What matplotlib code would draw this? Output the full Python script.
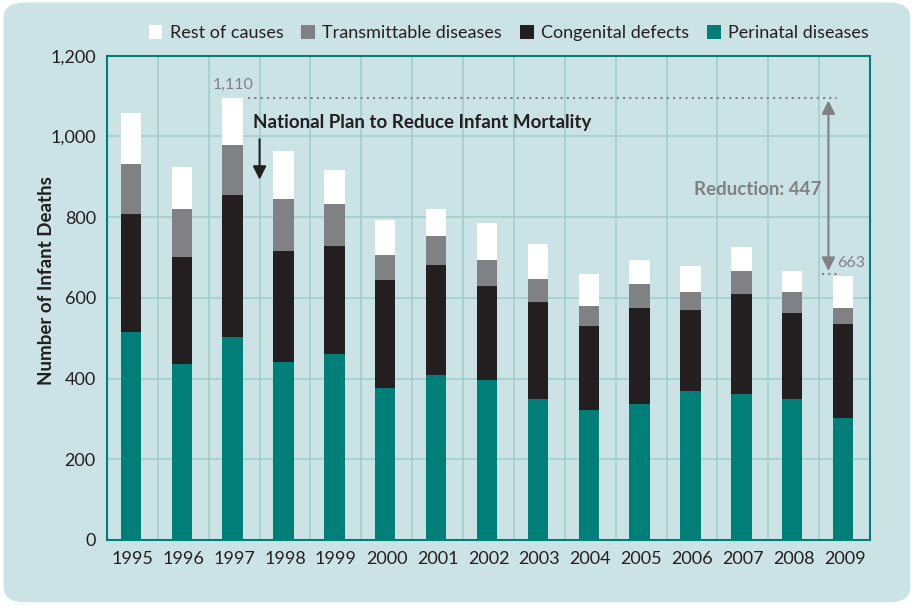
import matplotlib.pyplot as plt
from matplotlib.patches import Patch, FancyBboxPatch
from matplotlib.ticker import FuncFormatter

plt.rcParams['font.family'] = ['Lato', 'DejaVu Sans']

# Data
years = ['1995', '1996', '1997', '1998', '1999', '2000', '2001', '2002',
         '2003', '2004', '2005', '2006', '2007', '2008', '2009']
perinatal = [515, 436, 502, 442, 462, 377, 409, 397, 349, 323, 336, 369, 362, 349, 303]
congenital = [292, 264, 352, 273, 267, 266, 273, 232, 240, 206, 240, 200, 247, 214, 233]
transmittable = [124, 121, 124, 130, 103, 63, 71, 64, 58, 52, 58, 45, 58, 51, 38]
rest = [126, 104, 118, 119, 86, 86, 66, 93, 86, 79, 59, 66, 59, 53, 79]

max_label = '1,110'
min_label = '663'
reduction_label = 'Reduction: 447'

bg = '#cce3e5'
grid_col = '#9fcfcf'
teal = '#007f78'
black = '#231f20'
gray = '#808184'

fig = plt.figure(figsize=(9.14, 6.06), dpi=100, facecolor='white')
panel = FancyBboxPatch((0.004, 0.006), 0.992, 0.99, boxstyle='round,pad=0,rounding_size=0.025',
                       transform=fig.transFigure, facecolor=bg, edgecolor='none', zorder=-10)
fig.patches.append(panel)

ax = fig.add_axes([0.117, 0.109, 0.835, 0.799])
ax.set_facecolor(bg)

x = [i - 0.03 for i in range(len(years))]
w = 0.40
bottom2 = [a + b for a, b in zip(perinatal, congenital)]
bottom3 = [a + b for a, b in zip(bottom2, transmittable)]
totals = [a + b for a, b in zip(bottom3, rest)]

ax.bar(x, perinatal, w, color=teal, zorder=3)
ax.bar(x, congenital, w, bottom=perinatal, color=black, zorder=3)
ax.bar(x, transmittable, w, bottom=bottom2, color=gray, zorder=3)
ax.bar(x, rest, w, bottom=bottom3, color='white', zorder=3)

ax.set_xlim(-0.5, len(years) - 0.5)
ax.set_ylim(0, 1200)
ax.set_xticks(range(len(years)))
ax.set_xticklabels(years)
ax.set_yticks(range(0, 1201, 200))
ax.yaxis.set_major_formatter(FuncFormatter(lambda v, p: f'{int(v):,}'))
ax.tick_params(length=0, labelsize=13, colors='#231f20', pad=8)

# grid
for v in range(200, 1200, 200):
    ax.axhline(v, color=grid_col, lw=1.2, zorder=1)
for k in range(len(years) - 1):
    ax.axvline(k + 0.5, color=grid_col, lw=1.2, zorder=1)
for s in ax.spines.values():
    s.set_color(teal)
    s.set_linewidth(1.5)

ax.set_ylabel('Number of Infant Deaths', fontsize=13.5, fontweight='bold', color=black)
ax.yaxis.set_label_coords(-0.068, 0.535)

# annotations
top = totals[2]
low = totals[-1] + 7
ax.plot([2.27, 13.84], [top, top], ls=(0, (1, 2)), color=gray, lw=1.5, zorder=4)
ax.plot([13.56, 13.84], [low, low], ls=(0, (1, 2)), color=gray, lw=1.5, zorder=4)
ax.text(1.98, 1129, max_label, color=gray, fontsize=11.5, ha='center', va='center')
ax.text(13.86, 687, min_label, color=gray, fontsize=11.5, ha='left', va='center')
ax.annotate('', xy=(13.68, low), xytext=(13.68, top),
            arrowprops=dict(arrowstyle='<|-|>', color=gray, lw=1.5, mutation_scale=20), zorder=5)
ax.text(13.55, 868, reduction_label, color=gray, fontsize=13.5, fontweight='bold',
        ha='right', va='center')
ax.text(2.37, 1035, 'National Plan to Reduce Infant Mortality', color=black, fontsize=13.5,
        fontweight='bold', ha='left', va='center')
ax.annotate('', xy=(2.5, 886), xytext=(2.5, 1000),
            arrowprops=dict(arrowstyle='-|>', color=black, lw=1.5, mutation_scale=20), zorder=5)

# legend
handles = [Patch(facecolor='white', label='Rest of causes'),
           Patch(facecolor=gray, label='Transmittable diseases'),
           Patch(facecolor=black, label='Congenital defects'),
           Patch(facecolor=teal, label='Perinatal diseases')]
fig.legend(handles=handles, loc='center right', bbox_to_anchor=(0.968, 0.945), ncol=4,
           frameon=False, fontsize=13, handlelength=0.75, handleheight=0.75,
           handletextpad=0.4, columnspacing=1.0, labelcolor=black)

plt.savefig('out.png', dpi=100, facecolor='white')
